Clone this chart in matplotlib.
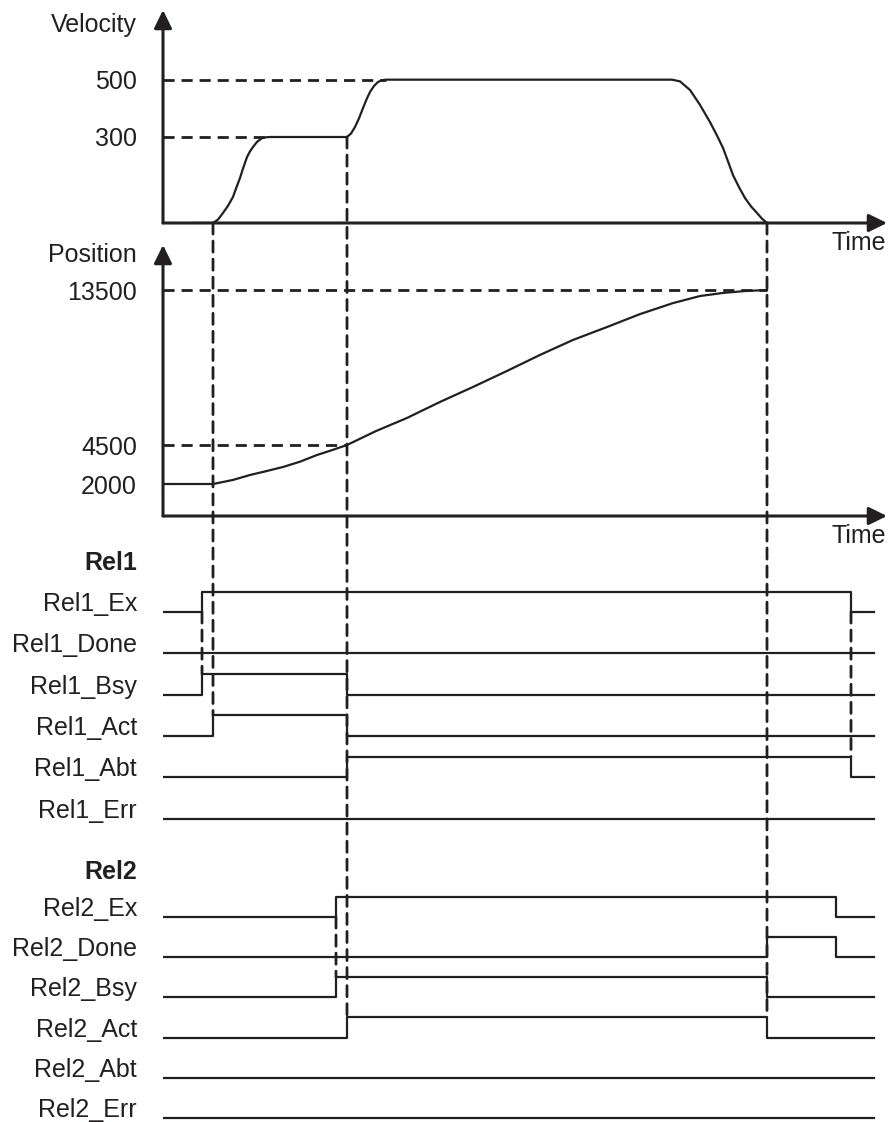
import numpy as np
import matplotlib.pyplot as plt
from matplotlib.patches import ConnectionPatch

plt.rcParams['font.family'] = ['Liberation Sans', 'DejaVu Sans']
plt.rcParams['font.size'] = 18

INK = '#231f20'
DASH = (0, (4, 2.5))

# event times (arbitrary time units)
t_rel1_ex = 39
t_rel1_act = 50
t_rel2_ex = 173
t_rel2_act = 184
t_stop = 604
t_rel2_ex_off = 673
t_rel1_ex_off = 688
t_end = 711
t_max = 724

# velocity profile
vel_t = [31, 50, 55, 60, 65, 70, 73, 77, 80, 84, 87, 90, 94, 99, 103, 107,
         184, 188, 192, 196, 200, 204, 207, 211, 215, 219, 223,
         509, 517, 527, 537, 547, 554, 560, 565, 570, 576, 582, 588, 594, 599, 604]
vel_v = [0, 0, 12, 35, 60, 91, 120, 157, 190, 230, 250, 265, 283, 296, 299, 300,
         300, 312, 335, 365, 401, 435, 457, 478, 492, 498, 500,
         500, 494, 464, 412, 352, 305, 262, 215, 167, 125, 87, 58, 35, 15, 0]

# position profile
pos_t = [0, 50, 70, 87, 103, 120, 137, 154, 169, 184, 213, 244, 277, 310, 344,
         377, 410, 444, 477, 510, 537, 560, 582, 604]
pos_v = [2000, 2000, 2260, 2577, 2820, 3090, 3430, 3860, 4170, 4500, 5310, 6070,
         7000, 7870, 8800, 9730, 10600, 11350, 12100, 12740, 13150, 13330, 13440,
         13500]

vel_ticks = [300, 500]
pos_ticks = [2000, 4500, 13500]

# timing signals: edge times and levels between them
rel1_names = ['Rel1_Ex', 'Rel1_Done', 'Rel1_Bsy', 'Rel1_Act', 'Rel1_Abt', 'Rel1_Err']
rel1_edges = [
    [0, t_rel1_ex, t_rel1_ex_off, t_end],
    [0, t_end],
    [0, t_rel1_ex, t_rel2_act, t_end],
    [0, t_rel1_act, t_rel2_act, t_end],
    [0, t_rel2_act, t_rel1_ex_off, t_end],
    [0, t_end],
]
rel1_levels = [[0, 1, 0], [0], [0, 1, 0], [0, 1, 0], [0, 1, 0], [0]]

rel2_names = ['Rel2_Ex', 'Rel2_Done', 'Rel2_Bsy', 'Rel2_Act', 'Rel2_Abt', 'Rel2_Err']
rel2_edges = [
    [0, t_rel2_ex, t_rel2_ex_off, t_end],
    [0, t_stop, t_rel2_ex_off, t_end],
    [0, t_rel2_ex, t_stop, t_end],
    [0, t_rel2_act, t_stop, t_end],
    [0, t_end],
    [0, t_end],
]
rel2_levels = [[0, 1, 0], [0, 1, 0], [0, 1, 0], [0, 1, 0], [0], [0]]

# layout (figure pixels)
W, H = 888, 1122
X0 = 163
fig = plt.figure(figsize=(W / 100, H / 100), dpi=100)


def frac_axes(top, bottom):
    return fig.add_axes([X0 / W, 1 - bottom / H, (W - 1 - X0) / W, (bottom - top) / H])


ax_v = frac_axes(10, 223)
ax_p = frac_axes(245, 516)
ax_s = frac_axes(545, 1122)

for ax in (ax_v, ax_p, ax_s):
    ax.set_xlim(0, t_max)
    ax.set_xticks([])
    for s in ax.spines.values():
        s.set_visible(False)
    ax.patch.set_alpha(0)


def axis_arrows(ax):
    kw = dict(arrowstyle='-|>,head_length=0.55,head_width=0.27', lw=2.2, color=INK,
              shrinkA=0, shrinkB=0, mutation_scale=20)
    ax.annotate('', xy=(0, 1), xytext=(0, 0), xycoords='axes fraction', arrowprops=kw)
    ax.annotate('', xy=(1, 0), xytext=(0, 0), xycoords='axes fraction', arrowprops=kw)
    ax.annotate('Time', xy=(1, 0), xycoords='axes fraction', xytext=(-1, -14.5),
                textcoords='offset points', ha='right', va='center', color=INK)
    ax.tick_params(axis='y', length=0, pad=18.7, labelcolor=INK)


# ---- velocity ----
ax_v.set_ylim(0, 743)
ax_v.set_yticks(vel_ticks)
axis_arrows(ax_v)
ax_v.plot(vel_t, vel_v, color=INK, lw=1.6)
ax_v.plot([0, 223], [500, 500], color=INK, lw=2, ls=DASH)
ax_v.plot([0, 107], [300, 300], color=INK, lw=2, ls=DASH)
ax_v.text(-26, 690, 'Velocity', ha='right', va='center', color=INK)

# ---- position (schematic, piecewise scale) ----
pos_marks = [0, 2000, 4500, 13500, 20000]
pos_height = [0, 32, 71, 226, 338]


def pos_fwd(v):
    return np.interp(v, pos_marks, pos_height)


def pos_inv(h):
    return np.interp(h, pos_height, pos_marks)


ax_p.set_yscale('function', functions=(pos_fwd, pos_inv))
ax_p.set_ylim(0, pos_inv(271))
ax_p.set_yticks(pos_ticks)
ax_p.set_yticklabels([str(v) for v in pos_ticks])
ax_p.yaxis.set_minor_locator(plt.NullLocator())
axis_arrows(ax_p)
ax_p.plot(pos_t, pos_v, color=INK, lw=1.6)
ax_p.plot([0, t_stop], [13500, 13500], color=INK, lw=2, ls=DASH)
ax_p.plot([0, t_rel2_act], [4500, 4500], color=INK, lw=2, ls=DASH)
ax_p.text(-26, pos_inv(261), 'Position', ha='right', va='center', color=INK)

# ---- timing signals ----
ax_s.set_ylim(H, 545)
ax_s.set_yticks([])
AMP = 20.5


def draw_group(title, title_y, names, edges, levels, base0, step):
    ax_s.text(-26, title_y, title, ha='right', va='center', weight='bold', color=INK)
    rows = []
    for i, (name, e, lv) in enumerate(zip(names, edges, levels)):
        base = base0 + step * i
        ys = base - AMP * np.array(lv + [lv[-1]])
        ax_s.step(e, ys, where='post', color=INK, lw=1.6)
        ax_s.text(-26, base - 8, name, ha='right', va='center', color=INK)
        rows.append(base)
    return rows


r1 = draw_group('Rel1', 563, rel1_names, rel1_edges, rel1_levels, 612, 41.3)
r2 = draw_group('Rel2', 872, rel2_names, rel2_edges, rel2_levels, 917, 40.2)


def vdash(x, yA, axA, yB, axB):
    con = ConnectionPatch(xyA=(x, yA), coordsA=axA.transData, xyB=(x, yB),
                          coordsB=axB.transData, color=INK, lw=2, linestyle=DASH)
    fig.add_artist(con)


vdash(t_rel1_act, 0, ax_v, r1[3] - AMP, ax_s)
vdash(t_rel2_act, 300, ax_v, r2[3] - AMP, ax_s)
vdash(t_stop, 0, ax_v, r2[3] - AMP, ax_s)
vdash(t_rel1_ex, r1[0], ax_s, r1[2] - AMP, ax_s)
vdash(t_rel2_ex, r2[0], ax_s, r2[2] - AMP, ax_s)
vdash(t_rel1_ex_off, r1[0], ax_s, r1[4] - AMP, ax_s)

fig.savefig('out.png', dpi=100)
